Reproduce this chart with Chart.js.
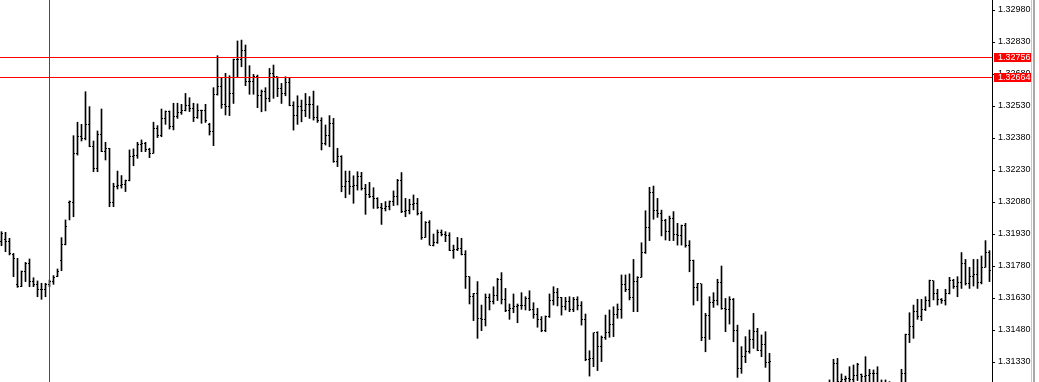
<!DOCTYPE html>
<html>
<head>
<meta charset="utf-8">
<script src="https://cdn.jsdelivr.net/npm/chart.js@4/dist/chart.umd.min.js"></script>
<style>
	html, body { margin: 0; padding: 0; background: #fff; overflow: hidden; }
	#wrap { position: relative; width: 1039px; height: 382px; }
	.edge { position: absolute; top: 0; height: 382px; }
</style>
</head>
<body>
<div id="wrap">
	<canvas id="chart" width="1039" height="382"></canvas>
	<div class="edge" style="left:1031px;width:1px;background:#c8c8c8"></div>
	<div class="edge" style="left:1033px;width:2px;background:#a8a8a8"></div>
</div>
<script>
// OHLC bars, one per 4px column
const opens = [
	1.31894, 1.31902, 1.31897, 1.31835, 1.31691, 1.31683, 1.31754, 1.31793, 1.31707, 1.31691,
	1.31672, 1.31668, 1.31691, 1.31707, 1.31730, 1.31804, 1.31879, 1.32079, 1.32079, 1.32308,
	1.32386, 1.32379, 1.32441, 1.32339, 1.32238, 1.32397, 1.32319, 1.32329, 1.32079, 1.32152,
	1.32157, 1.32163, 1.32179, 1.32293, 1.32297, 1.32350, 1.32355, 1.32324, 1.32308, 1.32425,
	1.32391, 1.32472, 1.32504, 1.32433, 1.32480, 1.32500, 1.32507, 1.32532, 1.32516, 1.32475,
	1.32511, 1.32507, 1.32444, 1.32410, 1.32585, 1.32621, 1.32535, 1.32527, 1.32589, 1.32746,
	1.32750, 1.32788, 1.32647, 1.32644, 1.32667, 1.32578, 1.32600, 1.32566, 1.32683, 1.32667,
	1.32610, 1.32589, 1.32641, 1.32531, 1.32485, 1.32527, 1.32507, 1.32538, 1.32535, 1.32475,
	1.32460, 1.32355, 1.32394, 1.32449, 1.32269, 1.32292, 1.32152, 1.32178, 1.32152, 1.32157,
	1.32199, 1.32144, 1.32116, 1.32105, 1.32097, 1.32053, 1.32050, 1.32058, 1.32082, 1.32105,
	1.32180, 1.32035, 1.32039, 1.32066, 1.32071, 1.32027, 1.31914, 1.31983, 1.31878, 1.31889,
	1.31936, 1.31930, 1.31921, 1.31852, 1.31858, 1.31861, 1.31836, 1.31730, 1.31639, 1.31649,
	1.31535, 1.31530, 1.31633, 1.31613, 1.31644, 1.31718, 1.31621, 1.31571, 1.31582, 1.31589,
	1.31593, 1.31596, 1.31628, 1.31577, 1.31555, 1.31530, 1.31477, 1.31543, 1.31618, 1.31655,
	1.31633, 1.31589, 1.31613, 1.31577, 1.31624, 1.31597, 1.31530, 1.31343, 1.31347, 1.31467,
	1.31402, 1.31446, 1.31468, 1.31508, 1.31555, 1.31577, 1.31691, 1.31671, 1.31633, 1.31707,
	1.31727, 1.31843, 1.31961, 1.32124, 1.32042, 1.32024, 1.31993, 1.31941, 1.32003, 1.31930,
	1.31925, 1.31972, 1.31878, 1.31805, 1.31680, 1.31696, 1.31446, 1.31550, 1.31608, 1.31617,
	1.31702, 1.31582, 1.31574, 1.31624, 1.31477, 1.31300, 1.31355, 1.31378, 1.31436, 1.31472,
	1.31386, 1.31410, 1.31327, 1.31220, 1.31150, 1.31110, 1.31160, 1.31100, 1.31040, 1.31070,
	1.31120, 1.31090, 1.31020, 1.31050, 1.31110, 1.31150, 1.31180, 1.31200, 1.31230, 1.31324,
	1.31240, 1.31246, 1.31253, 1.31249, 1.31269, 1.31270, 1.31261, 1.31269, 1.31274, 1.31276,
	1.31220, 1.31180, 1.31200, 1.31150, 1.31120, 1.31180, 1.31274, 1.31457, 1.31496, 1.31566,
	1.31543, 1.31577, 1.31617, 1.31711, 1.31649, 1.31621, 1.31617, 1.31649, 1.31711, 1.31683,
	1.31702, 1.31793, 1.31699, 1.31733, 1.31742, 1.31702, 1.31774, 1.31843
];
const highs = [
	1.31941, 1.31938, 1.31910, 1.31839, 1.31816, 1.31757, 1.31797, 1.31813, 1.31725, 1.31710,
	1.31699, 1.31699, 1.31714, 1.31735, 1.31766, 1.31913, 1.31996, 1.32085, 1.32391, 1.32454,
	1.32444, 1.32597, 1.32527, 1.32366, 1.32413, 1.32516, 1.32360, 1.32332, 1.32168, 1.32225,
	1.32204, 1.32183, 1.32324, 1.32329, 1.32360, 1.32371, 1.32360, 1.32332, 1.32454, 1.32438,
	1.32516, 1.32507, 1.32507, 1.32543, 1.32543, 1.32538, 1.32589, 1.32569, 1.32543, 1.32540,
	1.32511, 1.32538, 1.32449, 1.32616, 1.32766, 1.32660, 1.32683, 1.32672, 1.32750, 1.32835,
	1.32839, 1.32816, 1.32719, 1.32678, 1.32675, 1.32605, 1.32616, 1.32706, 1.32722, 1.32667,
	1.32636, 1.32667, 1.32663, 1.32550, 1.32578, 1.32558, 1.32589, 1.32574, 1.32600, 1.32531,
	1.32475, 1.32441, 1.32485, 1.32472, 1.32332, 1.32297, 1.32225, 1.32225, 1.32203, 1.32222,
	1.32219, 1.32163, 1.32172, 1.32147, 1.32100, 1.32074, 1.32082, 1.32085, 1.32132, 1.32186,
	1.32218, 1.32097, 1.32093, 1.32113, 1.32097, 1.32035, 1.31988, 1.31993, 1.31930, 1.31949,
	1.31949, 1.31941, 1.31936, 1.31878, 1.31914, 1.31910, 1.31852, 1.31730, 1.31652, 1.31707,
	1.31597, 1.31649, 1.31649, 1.31683, 1.31722, 1.31749, 1.31675, 1.31602, 1.31649, 1.31602,
	1.31655, 1.31636, 1.31664, 1.31608, 1.31582, 1.31543, 1.31546, 1.31649, 1.31683, 1.31675,
	1.31633, 1.31633, 1.31636, 1.31633, 1.31636, 1.31613, 1.31555, 1.31383, 1.31467, 1.31472,
	1.31452, 1.31550, 1.31574, 1.31589, 1.31602, 1.31738, 1.31738, 1.31743, 1.31811, 1.31730,
	1.31889, 1.32039, 1.32149, 1.32155, 1.32097, 1.32042, 1.31999, 1.32014, 1.32035, 1.31980,
	1.31972, 1.31980, 1.31899, 1.31808, 1.31699, 1.31696, 1.31558, 1.31636, 1.31655, 1.31718,
	1.31780, 1.31628, 1.31636, 1.31628, 1.31503, 1.31402, 1.31449, 1.31480, 1.31558, 1.31488,
	1.31457, 1.31472, 1.31371, 1.31230, 1.31200, 1.31180, 1.31210, 1.31140, 1.31100, 1.31150,
	1.31190, 1.31130, 1.31080, 1.31140, 1.31180, 1.31210, 1.31225, 1.31246, 1.31343, 1.31347,
	1.31274, 1.31264, 1.31308, 1.31316, 1.31324, 1.31274, 1.31355, 1.31296, 1.31293, 1.31308,
	1.31246, 1.31246, 1.31238, 1.31200, 1.31190, 1.31296, 1.31461, 1.31561, 1.31597, 1.31624,
	1.31624, 1.31636, 1.31714, 1.31711, 1.31671, 1.31628, 1.31671, 1.31727, 1.31718, 1.31730,
	1.31843, 1.31811, 1.31774, 1.31811, 1.31811, 1.31827, 1.31899, 1.31852
];
const lows = [
	1.31875, 1.31847, 1.31832, 1.31730, 1.31680, 1.31683, 1.31707, 1.31683, 1.31683, 1.31636,
	1.31624, 1.31636, 1.31683, 1.31694, 1.31730, 1.31758, 1.31879, 1.31996, 1.32011, 1.32300,
	1.32366, 1.32371, 1.32339, 1.32222, 1.32222, 1.32316, 1.32277, 1.32058, 1.32058, 1.32141,
	1.32145, 1.32129, 1.32179, 1.32250, 1.32285, 1.32316, 1.32316, 1.32288, 1.32308, 1.32382,
	1.32386, 1.32444, 1.32422, 1.32418, 1.32472, 1.32491, 1.32507, 1.32504, 1.32457, 1.32472,
	1.32449, 1.32453, 1.32394, 1.32344, 1.32581, 1.32519, 1.32488, 1.32485, 1.32542, 1.32663,
	1.32714, 1.32625, 1.32585, 1.32585, 1.32522, 1.32503, 1.32507, 1.32550, 1.32566, 1.32574,
	1.32542, 1.32578, 1.32531, 1.32417, 1.32444, 1.32456, 1.32480, 1.32472, 1.32464, 1.32453,
	1.32324, 1.32347, 1.32339, 1.32266, 1.32246, 1.32128, 1.32100, 1.32116, 1.32074, 1.32136,
	1.32136, 1.32022, 1.32100, 1.32050, 1.32050, 1.31975, 1.32038, 1.32043, 1.32063, 1.32066,
	1.32030, 1.32011, 1.32024, 1.32043, 1.32019, 1.31905, 1.31914, 1.31878, 1.31874, 1.31886,
	1.31921, 1.31894, 1.31852, 1.31816, 1.31852, 1.31832, 1.31675, 1.31602, 1.31524, 1.31441,
	1.31477, 1.31499, 1.31574, 1.31602, 1.31618, 1.31602, 1.31566, 1.31530, 1.31561, 1.31514,
	1.31577, 1.31574, 1.31571, 1.31535, 1.31493, 1.31472, 1.31472, 1.31539, 1.31597, 1.31593,
	1.31550, 1.31574, 1.31566, 1.31566, 1.31574, 1.31503, 1.31336, 1.31264, 1.31308, 1.31290,
	1.31332, 1.31436, 1.31446, 1.31449, 1.31535, 1.31535, 1.31660, 1.31621, 1.31566, 1.31566,
	1.31727, 1.31839, 1.31899, 1.31999, 1.32008, 1.31921, 1.31902, 1.31899, 1.31899, 1.31878,
	1.31878, 1.31868, 1.31753, 1.31597, 1.31617, 1.31430, 1.31378, 1.31436, 1.31586, 1.31597,
	1.31577, 1.31472, 1.31508, 1.31425, 1.31258, 1.31277, 1.31327, 1.31371, 1.31394, 1.31383,
	1.31355, 1.31305, 1.31238, 1.31120, 1.31080, 1.31050, 1.31090, 1.31010, 1.30980, 1.31030,
	1.31060, 1.31000, 1.30960, 1.31020, 1.31070, 1.31100, 1.31120, 1.31180, 1.31200, 1.31210,
	1.31190, 1.31200, 1.31210, 1.31215, 1.31243, 1.31200, 1.31220, 1.31210, 1.31200, 1.31190,
	1.31150, 1.31140, 1.31120, 1.31080, 1.31070, 1.31150, 1.31230, 1.31421, 1.31441, 1.31530,
	1.31524, 1.31571, 1.31589, 1.31621, 1.31597, 1.31605, 1.31597, 1.31649, 1.31675, 1.31636,
	1.31675, 1.31691, 1.31675, 1.31686, 1.31675, 1.31696, 1.31774, 1.31707
];
const closes = [
	1.31933, 1.31897, 1.31839, 1.31816, 1.31683, 1.31754, 1.31793, 1.31707, 1.31691, 1.31672,
	1.31668, 1.31691, 1.31707, 1.31725, 1.31754, 1.31882, 1.31964, 1.32082, 1.32308, 1.32386,
	1.32379, 1.32444, 1.32339, 1.32238, 1.32397, 1.32319, 1.32329, 1.32079, 1.32152, 1.32157,
	1.32163, 1.32179, 1.32293, 1.32297, 1.32350, 1.32355, 1.32324, 1.32308, 1.32425, 1.32391,
	1.32472, 1.32504, 1.32433, 1.32480, 1.32500, 1.32507, 1.32532, 1.32516, 1.32475, 1.32511,
	1.32507, 1.32460, 1.32410, 1.32585, 1.32621, 1.32535, 1.32527, 1.32589, 1.32746, 1.32750,
	1.32788, 1.32647, 1.32644, 1.32667, 1.32578, 1.32600, 1.32566, 1.32683, 1.32667, 1.32610,
	1.32589, 1.32641, 1.32531, 1.32485, 1.32527, 1.32507, 1.32538, 1.32535, 1.32475, 1.32460,
	1.32355, 1.32394, 1.32449, 1.32269, 1.32292, 1.32152, 1.32178, 1.32152, 1.32157, 1.32199,
	1.32144, 1.32116, 1.32105, 1.32097, 1.32053, 1.32050, 1.32058, 1.32082, 1.32105, 1.32180,
	1.32035, 1.32039, 1.32066, 1.32071, 1.32027, 1.31914, 1.31983, 1.31878, 1.31889, 1.31936,
	1.31930, 1.31921, 1.31852, 1.31858, 1.31861, 1.31836, 1.31730, 1.31639, 1.31649, 1.31535,
	1.31530, 1.31633, 1.31613, 1.31644, 1.31718, 1.31621, 1.31571, 1.31582, 1.31589, 1.31593,
	1.31596, 1.31628, 1.31577, 1.31555, 1.31530, 1.31477, 1.31543, 1.31618, 1.31655, 1.31633,
	1.31589, 1.31613, 1.31577, 1.31624, 1.31597, 1.31530, 1.31343, 1.31347, 1.31467, 1.31402,
	1.31446, 1.31468, 1.31508, 1.31555, 1.31577, 1.31691, 1.31671, 1.31633, 1.31707, 1.31727,
	1.31843, 1.31961, 1.32124, 1.32042, 1.32024, 1.31993, 1.31941, 1.32003, 1.31930, 1.31925,
	1.31972, 1.31878, 1.31805, 1.31680, 1.31696, 1.31446, 1.31550, 1.31608, 1.31617, 1.31702,
	1.31582, 1.31574, 1.31624, 1.31477, 1.31300, 1.31355, 1.31378, 1.31436, 1.31472, 1.31386,
	1.31410, 1.31327, 1.31332, 1.31150, 1.31110, 1.31160, 1.31100, 1.31040, 1.31070, 1.31120,
	1.31090, 1.31020, 1.31050, 1.31110, 1.31150, 1.31180, 1.31200, 1.31230, 1.31324, 1.31240,
	1.31246, 1.31253, 1.31249, 1.31269, 1.31316, 1.31261, 1.31269, 1.31274, 1.31276, 1.31220,
	1.31180, 1.31200, 1.31150, 1.31120, 1.31170, 1.31274, 1.31457, 1.31496, 1.31566, 1.31543,
	1.31577, 1.31617, 1.31711, 1.31649, 1.31621, 1.31617, 1.31649, 1.31711, 1.31683, 1.31702,
	1.31793, 1.31699, 1.31733, 1.31742, 1.31702, 1.31774, 1.31843, 1.31760
];

// price scale labels on the right
const priceTicks = [1.31330, 1.31480, 1.31630, 1.31780, 1.31930, 1.32080, 1.32230, 1.32380, 1.32530, 1.32680, 1.32830, 1.32980];
const priceMin = 1.312363;
const priceMax = 1.330269;

// crosshair and marked price levels
const crossBar = 12;
const levelPrices = [1.32756, 1.32664];

const bars = highs.map((h, i) => ({ x: i, y: [lows[i], h] }));

const labelFont = "9px 'Liberation Sans', Arial, sans-serif";

const ohlcExtras = {
	id: "ohlcExtras",
	afterDatasetsDraw(chart) {
		const ctx = chart.ctx;
		const xs = chart.scales.x;
		const ys = chart.scales.y;
		const area = chart.chartArea;
		ctx.save();
		ctx.beginPath();
		ctx.rect(area.left, area.top, area.right - area.left, area.bottom - area.top);
		ctx.clip();
		ctx.fillStyle = "#000";
		for (let i = 0; i < opens.length; i++) {
			const x = Math.floor(xs.getPixelForValue(i));
			ctx.fillRect(x - 1, Math.floor(ys.getPixelForValue(opens[i])), 1, 1);
			ctx.fillRect(x + 1, Math.floor(ys.getPixelForValue(closes[i])), 1, 1);
		}
		ctx.fillStyle = "#ff0000";
		ctx.fillRect(Math.floor(xs.getPixelForValue(crossBar)), area.top, 1, area.bottom - area.top);
		levelPrices.forEach((p) => {
			ctx.fillRect(area.left, Math.floor(ys.getPixelForValue(p)), area.right - area.left, 1);
		});
		ctx.restore();
	},
	afterDraw(chart) {
		const ctx = chart.ctx;
		const ys = chart.scales.y;
		const left = chart.chartArea.right + 2;
		ctx.save();
		ctx.font = labelFont;
		ctx.textBaseline = "middle";
		levelPrices.forEach((p) => {
			const y = Math.floor(ys.getPixelForValue(p));
			ctx.fillStyle = "#ff0000";
			ctx.fillRect(left, y - 4, 37, 9);
			ctx.fillStyle = "#fff";
			ctx.fillText(p.toFixed(5), left + 4, y + 0.5);
		});
		ctx.restore();
	}
};

new Chart(document.getElementById("chart"), {
	type: "bar",
	data: {
		datasets: [
			{
				label: "bars",
				data: bars,
				backgroundColor: "#000",
				borderWidth: 0,
				barThickness: 1,
			},
		],
	},
	options: {
		responsive: false,
		animation: false,
		devicePixelRatio: 1,
		events: [],
		layout: { padding: 0 },
		plugins: {
			legend: { display: false },
			tooltip: { enabled: false },
		},
		scales: {
			x: {
				type: "linear",
				display: false,
				offset: false,
				min: -0.375,
				max: 247.625,
			},
			y: {
				position: "right",
				min: priceMin,
				max: priceMax,
				beginAtZero: false,
				afterBuildTicks: (s) => {
					s.ticks = priceTicks.map((v) => ({ value: v }));
				},
				afterFit: (s) => {
					s.width = 47;
					s.paddingTop = 0;
					s.paddingBottom = 0;
				},
				grid: { drawOnChartArea: false, drawTicks: true, tickLength: 3, color: "#000" },
				border: { display: true, color: "#000" },
				ticks: {
					color: "#000",
					padding: 3,
					autoSkip: false,
					font: { family: "'Liberation Sans', Arial, sans-serif", size: 9 },
					callback: (v) => Number(v).toFixed(5),
				},
			},
		},
	},
	plugins: [ohlcExtras],
});
</script>
</body>
</html>
